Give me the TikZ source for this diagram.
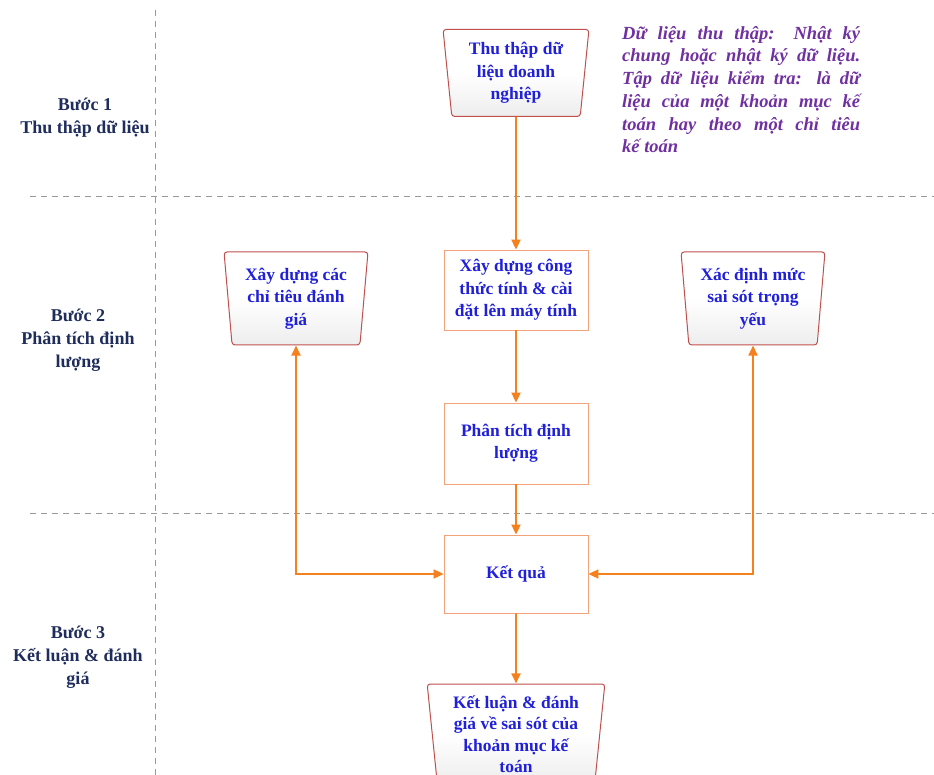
\documentclass[tikz,border=0pt]{standalone}
\usepackage{fontspec}
\setmainfont{Liberation Serif}
\usetikzlibrary{shapes.geometric,arrows.meta}
\definecolor{arr}{HTML}{F5801E}
\definecolor{txtblue}{HTML}{2020D8}
\definecolor{notec}{HTML}{7030A0}
\definecolor{navyc}{HTML}{1F2D5C}
\definecolor{trapb}{HTML}{C0504D}
\definecolor{rectb}{HTML}{F4A27A}
\newcommand{\jline}[1]{\makebox[238pt][s]{#1}}
\begin{document}
\begin{tikzpicture}[x=1pt,y=-1pt,
 lbl/.style={font=\bfseries\fontsize{17.5}{22.5}\selectfont, text=txtblue, align=center},
 trap/.style={lbl, draw=trapb, line width=1pt, trapezium, shape border rotate=180, trapezium stretches=true, trapezium left angle=84, trapezium right angle=84, rounded corners=3pt, top color=white, bottom color=gray!14, middle color=white, inner sep=0pt},
 rbox/.style={lbl, draw=rectb, line width=0.8pt, minimum width=144pt, minimum height=80pt, inner sep=0pt},
 flow/.style={draw=arr, line width=1.8pt, -{Triangle[length=10pt,width=9pt]}},
 flow2/.style={draw=arr, line width=1.8pt, {Triangle[length=10pt,width=9pt]}-{Triangle[length=10pt,width=9pt]}},
 sepline/.style={draw=gray!80, line width=1pt, dash pattern=on 6pt off 5pt},
 steplbl/.style={font=\bfseries\fontsize{18}{23}\selectfont, text=navyc, align=center},
 notetxt/.style={font=\bfseries\itshape\fontsize{18.5}{22.7}\selectfont, text=notec, align=left, inner sep=0pt, anchor=north west}
]
\useasboundingbox (0,0) rectangle (934,775);
% separators
\coordinate (v1) at (155,10);
\coordinate (v2) at (155,775);
\coordinate (h1a) at (30,197);
\coordinate (h1b) at (934,197);
\coordinate (h2a) at (30,513);
\coordinate (h2b) at (934,513);
\draw[sepline] (v1) -- (v2);
\draw[sepline] (h1a) -- (h1b);
\draw[sepline] (h2a) -- (h2b);
% step labels
\node[steplbl] (s1) at (85,118) {Bước 1\\Thu thập dữ liệu};
\node[steplbl] (s2) at (78,340) {Bước 2\\Phân tích định\\lượng};
\node[steplbl] (s3) at (78,657) {Bước 3\\Kết luận \& đánh\\giá};
% note
\node[notetxt] (note) at (622,26) {\jline{Dữ liệu thu thập: Nhật ký}\\\jline{chung hoặc nhật ký dữ liệu.}\\\jline{Tập dữ liệu kiểm tra: là dữ}\\\jline{liệu của một khoản mục kế}\\\jline{toán hay theo một chỉ tiêu}\\kế toán};
% nodes
\node[trap, minimum width=146pt, minimum height=87pt] (top) at (516,73) {Thu thập dữ\\liệu doanh\\nghiệp};
\node[rbox] (b1) at (516,290) {Xây dựng công\\thức tính \& cài\\đặt lên máy tính};
\node[rbox, minimum height=81pt] (b2) at (516,443.5) {Phân tích định\\lượng};
\node[rbox, minimum height=78pt] (kq) at (516,574) {Kết quả};
\node[trap, minimum width=144pt, minimum height=93pt] (left) at (296,298.5) {Xây dựng các\\chỉ tiêu đánh\\giá};
\node[trap, minimum width=144pt, minimum height=93pt] (right) at (753,298.5) {Xác định mức\\sai sót trọng\\yếu};
\node[trap, minimum width=178pt, minimum height=100pt, font=\bfseries\fontsize{17.5}{21.5}\selectfont] (bot) at (516,734) {Kết luận \& đánh\\giá về sai sót của\\khoản mục kế\\toán};
% connectors
\draw[flow] (top.south) -- (b1.north);
\draw[flow] (b1.south) -- (b2.north);
\draw[flow] (b2.south) -- (kq.north);
\draw[flow] (kq.south) -- (bot.north);
\draw[flow2] (kq.west) -| (left.south);
\draw[flow2] (kq.east) -| (right.south);
\end{tikzpicture}
\end{document}
